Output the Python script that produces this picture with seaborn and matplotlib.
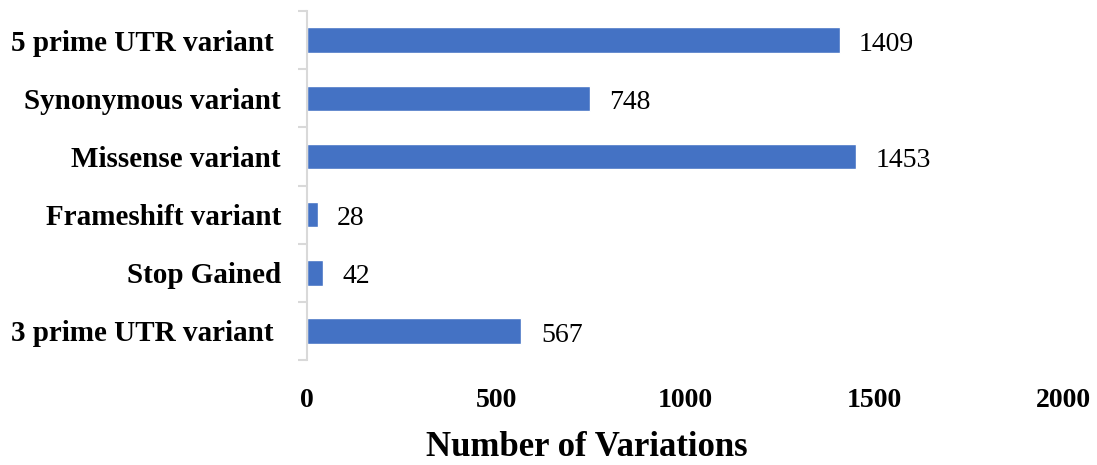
import matplotlib
matplotlib.use("Agg")
import matplotlib.pyplot as plt
import seaborn as sns
import pandas as pd
from matplotlib.ticker import FixedLocator

categories = ["5 prime UTR variant ", "Synonymous variant", "Missense variant",
              "Frameshift variant", "Stop Gained", "3 prime UTR variant "]
counts = [1409, 748, 1453, 28, 42, 567]
xticks = [0, 500, 1000, 1500, 2000]

sns.set_theme(style="white")
plt.rcParams["font.family"] = ["Liberation Serif", "DejaVu Serif"]
plt.rcParams["text.color"] = "black"
plt.rcParams["xtick.color"] = "black"
plt.rcParams["ytick.color"] = "black"

df = pd.DataFrame({"variant": categories, "count": counts})

fig = plt.figure(figsize=(10.97, 4.65), dpi=100)
ax = fig.add_axes([0.28, 0.226, 0.689, 0.750])

sns.barplot(data=df, x="count", y="variant", orient="h", color="#4472C4",
            width=0.44, saturation=1, ax=ax)

for i, v in enumerate(counts):
    ax.annotate(f"{v}", xy=(v, i), xytext=(14, -3), textcoords="offset points",
                ha="left", va="center", fontsize=20, color="black")

ax.set_xlim(0, 2000)
ax.set_ylim(len(categories) - 0.5, -0.5)
ax.set_xticks(xticks)
ax.set_xticklabels([str(t) for t in xticks], fontsize=20, fontweight="bold")
ax.tick_params(axis="x", length=0, pad=20, labelcolor="black")
ax.tick_params(axis="y", which="major", length=0, pad=19, labelsize=21, labelcolor="black")
for lab in ax.get_yticklabels():
    lab.set_fontweight("bold")
ax.yaxis.set_minor_locator(FixedLocator([i - 0.5 for i in range(len(categories) + 1)]))
ax.tick_params(axis="y", which="minor", length=6.5, width=1.5, color="#D9D9D9", left=True)

for s in ["top", "right", "bottom"]:
    ax.spines[s].set_visible(False)
ax.spines["left"].set_color("#D9D9D9")
ax.spines["left"].set_linewidth(1.5)

ax.set_ylabel("")
ax.set_xlabel("Number of Variations", fontsize=25, fontweight="bold", color="black")
ax.xaxis.set_label_coords(0.37, -0.205)

fig.savefig("out.png", dpi=100)
